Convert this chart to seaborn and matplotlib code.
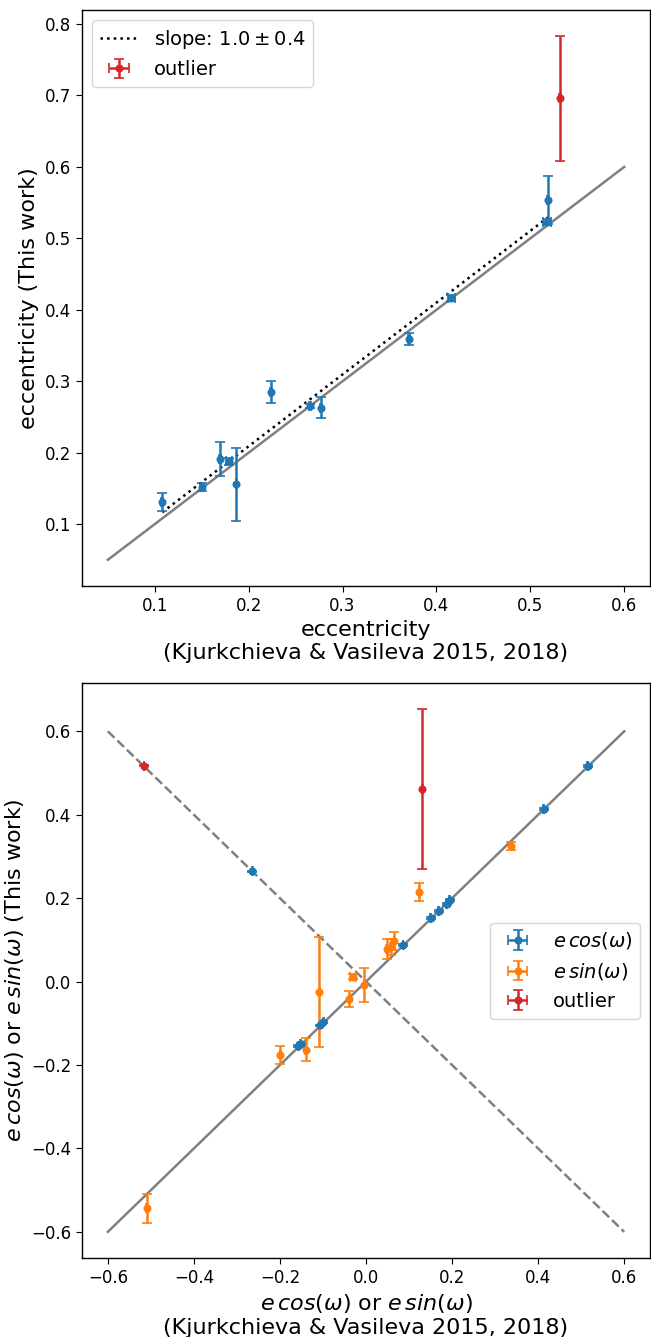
import numpy as np
import matplotlib
matplotlib.use("Agg")
import matplotlib.pyplot as plt
import seaborn as sns

# eccentricity: Kjurkchieva & Vasileva vs this work
kv_e = [0.108, 0.150, 0.169, 0.179, 0.187, 0.224, 0.265, 0.277, 0.371, 0.416, 0.518, 0.519]
kv_e_err = [0.001, 0.001, 0.001, 0.003, 0.001, 0.001, 0.001, 0.001, 0.001, 0.004, 0.004, 0.001]
tw_e = [0.131, 0.152, 0.191, 0.188, 0.156, 0.285, 0.265, 0.263, 0.359, 0.417, 0.523, 0.554]
tw_e_err = [0.012, 0.006, 0.024, 0.005, 0.051, 0.015, 0.003, 0.0145, 0.008, 0.004, 0.004, 0.034]

# outlier system
out_kv_e, out_kv_e_err = 0.532, 0.001
out_tw_e, out_tw_e_err = 0.696, 0.087

# linear fit
fit_slope, fit_icpt = 1.005, 0.008
slope_label = r"slope: $1.0 \pm 0.4$"

# e cos(w)
ecos_kv = [-0.264, 0.515, 0.413, 0.194, 0.188, 0.169, 0.150, 0.086, -0.099, -0.108, -0.152, -0.157]
ecos_kv_err = [0.001] * 12
ecos_tw = [0.264, 0.517, 0.414, 0.196, 0.186, 0.170, 0.153, 0.087, -0.097, -0.105, -0.150, -0.155]
ecos_tw_err = [0.002] * 12

# e sin(w)
esin_kv = [0.123, 0.338, 0.048, 0.057, 0.065, -0.031, -0.004, -0.039, -0.109, -0.199, -0.140, -0.510]
esin_kv_err = [0.001, 0.001, 0.001, 0.001, 0.001, 0.007, 0.001, 0.001, 0.001, 0.001, 0.001, 0.001]
esin_tw = [0.215, 0.325, 0.079, 0.083, 0.097, 0.011, -0.009, -0.042, -0.025, -0.176, -0.163, -0.544]
esin_tw_err = [0.022, 0.010, 0.024, 0.020, 0.021, 0.006, 0.041, 0.019, 0.131, 0.022, 0.027, 0.035]

# outlier: e cos(w) and e sin(w)
out_kv = [-0.516, 0.1305]
out_kv_err = [0.001, 0.001]
out_tw = [0.518, 0.461]
out_tw_err = [0.002, 0.192]

ref_top = [0.05, 0.6]
ref_bot = [-0.6, 0.6]

ref_label = "(Kjurkchieva & Vasileva 2015, 2018)"

plt.rcParams['xtick.labelsize'] = 12
plt.rcParams['ytick.labelsize'] = 12
plt.rcParams['xtick.major.size'] = 4.2
plt.rcParams['ytick.major.size'] = 4.2
plt.rcParams['axes.linewidth'] = 1.0

fig = plt.figure(figsize=(6.51, 13.37), dpi=100)
ax1 = fig.add_axes([0.126, 0.5617, 0.8725, 0.4308])
ax2 = fig.add_axes([0.126, 0.0591, 0.8725, 0.4300])

eb = dict(fmt='o', markersize=4.8, capsize=3.6, elinewidth=1.8, capthick=1.2)
lw = 1.8
lab_fs = 16

# --- top: eccentricity
sns.lineplot(x=ref_top, y=ref_top, color='gray', lw=lw, ax=ax1, legend=False)
xf = np.array([min(kv_e), max(kv_e)])
ax1.plot(xf, fit_slope * xf + fit_icpt, ':', color='k', lw=lw, label=slope_label)
ax1.errorbar(kv_e, tw_e, xerr=kv_e_err, yerr=tw_e_err, color='tab:blue', **eb)
ax1.errorbar(out_kv_e, out_tw_e, xerr=out_kv_e_err, yerr=out_tw_e_err,
             color='tab:red', label='outlier', **eb)
ax1.set_xlabel("eccentricity\n" + ref_label, fontsize=lab_fs)
ax1.set_ylabel("eccentricity (This work)", fontsize=lab_fs)
ax1.legend(loc='upper left', fontsize=14)

# --- bottom: e cos(w), e sin(w)
sns.lineplot(x=ref_bot, y=ref_bot, color='gray', lw=lw, ax=ax2, legend=False)
sns.lineplot(x=ref_bot, y=ref_bot[::-1], color='gray', lw=lw, ls='--', ax=ax2, legend=False)
ax2.errorbar(ecos_kv, ecos_tw, xerr=ecos_kv_err, yerr=ecos_tw_err,
             color='tab:blue', label=r"$e\,cos(\omega)$", **eb)
ax2.errorbar(esin_kv, esin_tw, xerr=esin_kv_err, yerr=esin_tw_err,
             color='tab:orange', label=r"$e\,sin(\omega)$", **eb)
ax2.errorbar(out_kv, out_tw, xerr=out_kv_err, yerr=out_tw_err,
             color='tab:red', label='outlier', **eb)
ax2.set_xlabel(r"$e\,cos(\omega)$ or $e\,sin(\omega)$" + "\n" + ref_label, fontsize=lab_fs)
ax2.set_ylabel(r"$e\,cos(\omega)$ or $e\,sin(\omega)$ (This work)", fontsize=lab_fs)
ax2.legend(loc='center right', fontsize=14)

fig.savefig("out.png", dpi=100)
